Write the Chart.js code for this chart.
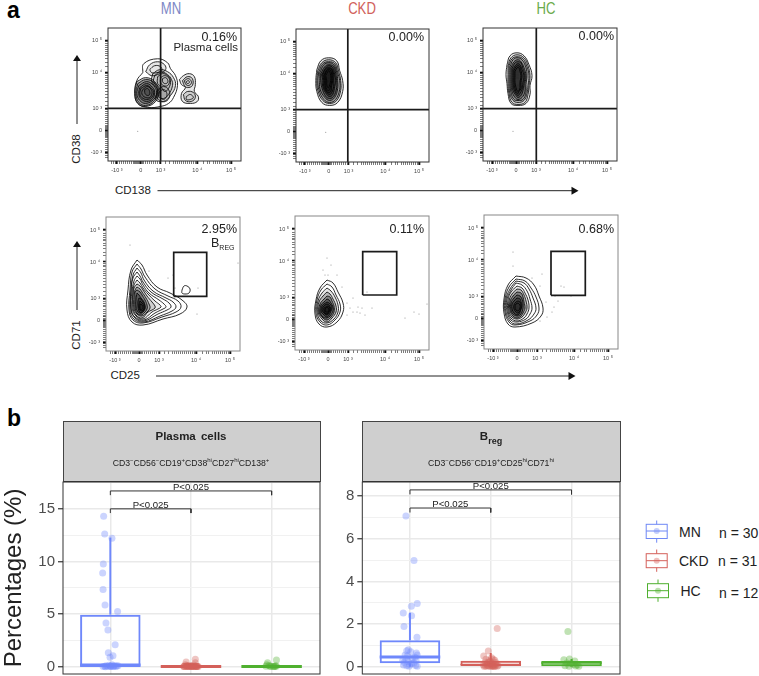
<!DOCTYPE html>
<html>
<head>
<meta charset="utf-8">
<script src="https://cdn.jsdelivr.net/npm/chart.js@4/dist/chart.umd.min.js"></script>
<style>
html,body{margin:0;padding:0;background:#fff}
#page{position:relative;width:759px;height:676px;overflow:hidden;font-family:"Liberation Sans",Arial,sans-serif;color:#222}
canvas{position:absolute}
.t{position:absolute;white-space:nowrap;line-height:1;transform:translateY(-50%)}
.c{transform:translate(-50%,-50%)}
.r{transform:translate(-100%,-50%)}
.v{transform:translate(-50%,-50%) rotate(-90deg)}
.strip{position:absolute;background:#cfcfcf;border:1px solid #444;border-bottom:1.5px solid #333;box-sizing:border-box;z-index:3}
sup,sub{font-size:6px;line-height:0}
svg{position:absolute;left:0;top:0;z-index:4}
</style>
</head>
<body>
<div id="page">
  <div class="t" style="left:7px;top:10px;font-size:23px;font-weight:bold;color:#000">a</div>
  <div class="t" style="left:7px;top:418px;font-size:23px;font-weight:bold;color:#000">b</div>

  <div class="t c" style="left:171px;top:9px;font-size:16px;color:#7e88c6;transform:translate(-50%,-50%) scaleX(.82)">MN</div>
  <div class="t c" style="left:362px;top:9px;font-size:16px;color:#d1615b;transform:translate(-50%,-50%) scaleX(.82)">CKD</div>
  <div class="t c" style="left:546px;top:9px;font-size:16px;color:#6aaa4a;transform:translate(-50%,-50%) scaleX(.82)">HC</div>

  <div class="t r" style="left:237px;top:37px;font-size:12.5px;z-index:2">0.16%</div>
  <div class="t r" style="left:238px;top:48px;font-size:11.5px;z-index:2">Plasma cells</div>
  <div class="t r" style="left:424px;top:37px;font-size:12.5px;z-index:2">0.00%</div>
  <div class="t r" style="left:614px;top:36px;font-size:12.5px;z-index:2">0.00%</div>
  <div class="t r" style="left:237px;top:229px;font-size:12.5px;z-index:2">2.95%</div>
  <div class="t" style="left:211px;top:243px;font-size:12.5px;z-index:2">B<sub style="font-size:7px">REG</sub></div>
  <div class="t r" style="left:424px;top:229px;font-size:12.5px;z-index:2">0.11%</div>
  <div class="t r" style="left:614px;top:229px;font-size:12.5px;z-index:2">0.68%</div>

  <div class="t v" style="left:77px;top:148.5px;font-size:11.5px">CD38</div>
  <div class="t v" style="left:77px;top:335px;font-size:11.5px">CD71</div>
  <div class="t" style="left:115px;top:191px;font-size:11.5px">CD138</div>
  <div class="t" style="left:110.5px;top:376px;font-size:11.5px">CD25</div>

  <svg width="759" height="676">
    <g stroke="#222" stroke-width="1" fill="#111">
      <line x1="77" y1="124" x2="77" y2="60"/><path d="M77 55l-4 6h8z" stroke="none"/>
      <line x1="77" y1="310" x2="77" y2="246"/><path d="M77 241l-4 6h8z" stroke="none"/>
      <line x1="157.5" y1="190.7" x2="572" y2="190.7"/><path d="M578.5 190.7l-7-4v8z" stroke="none"/>
      <line x1="156" y1="376" x2="569" y2="376"/><path d="M575.5 376l-7-4v8z" stroke="none"/>
    </g>
    <g fill="none" stroke-width="1">
      <g stroke="#6f88f5">
        <rect x="646.2" y="524.3" width="21" height="14.2"/>
        <line x1="646.2" y1="531" x2="667.2" y2="531"/>
        <line x1="656.7" y1="520.5" x2="656.7" y2="524.3"/><line x1="656.7" y1="538.5" x2="656.7" y2="542.7"/>
        <circle cx="656.7" cy="531" r="3" fill="#6f88f5" fill-opacity=".4" stroke="none"/>
      </g>
      <g stroke="#d4605a">
        <rect x="646.2" y="553.7" width="21" height="14"/>
        <line x1="646.2" y1="560.7" x2="667.2" y2="560.7"/>
        <line x1="656.7" y1="549.5" x2="656.7" y2="553.7"/><line x1="656.7" y1="567.7" x2="656.7" y2="571.8"/>
        <circle cx="656.7" cy="560.7" r="3" fill="#d4605a" fill-opacity=".4" stroke="none"/>
      </g>
      <g stroke="#4fb02f">
        <rect x="647.5" y="583.7" width="21" height="14"/>
        <line x1="647.5" y1="590.7" x2="668.5" y2="590.7"/>
        <line x1="658" y1="579.5" x2="658" y2="583.7"/><line x1="658" y1="597.7" x2="658" y2="601.8"/>
        <circle cx="658" cy="590.7" r="3" fill="#4fb02f" fill-opacity=".4" stroke="none"/>
      </g>
    </g>
  </svg>
  <div class="t" style="left:679px;top:532px;font-size:14px">MN</div>
  <div class="t" style="left:719px;top:533px;font-size:14px">n = 30</div>
  <div class="t" style="left:679px;top:561px;font-size:14px">CKD</div>
  <div class="t" style="left:718px;top:561px;font-size:14px">n = 31</div>
  <div class="t" style="left:680.5px;top:591px;font-size:14px">HC</div>
  <div class="t" style="left:719px;top:593px;font-size:14px">n = 12</div>

  <div class="strip" style="left:62.5px;top:421px;width:258px;height:60.5px"></div>
  <div class="strip" style="left:362px;top:421px;width:258.5px;height:60.5px"></div>
  <div class="t c" style="left:191px;top:437px;font-size:11.5px;font-weight:bold;z-index:5;word-spacing:2px">Plasma cells</div>
  <div class="t c" style="left:191px;top:463px;font-size:8.7px;z-index:5">CD3<sup>−</sup>CD56<sup>−</sup>CD19<sup>+</sup>CD38<sup>hi</sup>CD27<sup>hi</sup>CD138<sup>+</sup></div>
  <div class="t c" style="left:491px;top:437px;font-size:11.5px;font-weight:bold;z-index:5">B<sub style="font-size:9px">reg</sub></div>
  <div class="t c" style="left:491px;top:463px;font-size:8.7px;z-index:5">CD3<sup>−</sup>CD56<sup>−</sup>CD19<sup>+</sup>CD25<sup>hi</sup>CD71<sup>hi</sup></div>
</div>

<script>
// ---------- Panel a: flow cytometry axes (channel units) ----------
const flowAxisLabelsX = {9:'-10 ³',33:'0',53:'10 ³',90:'10 ⁴',124:'10 ⁵'};
const flowAxisLabelsY = {9:'-10 ³',31:'0',53:'10 ³',89:'10 ⁴',121:'10 ⁵'};
const flowMajorX = [9,33,53,90,124];
const flowMinorX = [4,6,8,10,12,14,16,18,20,22,24,26,27,28,29,30,31,32,34,35,36,38,40,42,44,46,48,50,52,58,62,66,68,70,72,74,76,78,80,82,84,86,88,89,96,100,102,106,108,110,112,114,116,118,120,122,123];
const flowMajorY = [9,31,53,89,121];
const flowMinorY = [4,6,8,10,12,14,16,18,20,22,24,25,26,27,28,29,30,32,33,34,35,36,38,40,42,44,46,48,50,52,56,60,64,67,70,73,76,78,80,82,84,86,88,95,99,103,106,108,110,112,114,116,118,120];

// closed contour outlines, as x,y,x,y… in channel units
const contoursMNPlasma = [
 [35,89,36,98,50,103,60,99,63,93,68,86,70,76,66,64,61,58,53,55,40,54,30,58,27,68,29,81],
 [29,80,38,84,47,80,51,70,48,60,38,55,30,58,27,68],
 [30,78,38,82,46,79,50,70,47,61,38,56,31,59,28,68],
 [31,76,39,80,46,76,49,69,46,62,38,58,32,61,29,68],
 [32,74,39,78,45,74,47,69,45,63,39,60,33,63,31,68],
 [33,73,39,76,44,73,46,69,44,64,39,62,34,64,32,68],
 [35,72,40,75,44,71,44,67,42,64,38,64,35,66,34,69],
 [37,72,40,73,42,70,42,67,40,66,38,67,37,69],
 [45,88,52,92,60,90,66,84,68,76,63,66,56,60,48,62,50,72,44,80],
 [47,86,53,90,60,87,64,82,65,76,61,67,56,63,51,65,52,73,46,80],
 [50,85,55,88,60,86,63,81,61,73,57,70,54,74,50,78],
 [53,84,57,86,61,84,62,80,60,76,56,76,53,79],
 [55,83,58,84,60,82,60,79,57,78,55,80],
 [50,72,56,75,61,72,62,65,58,60,52,61,49,66],
 [52,70,56,72,59,69,59,65,56,62,53,64],
 [38,90,42,97,50,100,57,97,58,92,52,88,44,86],
 [42,92,47,96,53,95,54,91,49,89,44,89],
 [72,82,76,86,82,88,87,85,88,77,87,70,91,65,90,60,83,58,75,60,74,68,78,74,74,77],
 [75,81,80,85,85,83,85,76,80,74,77,76],
 [77,81,81,83,84,80,83,77,80,76,78,78],
 [79,80,81,81,82,79,80,78,79,79],
 [76,67,80,70,86,69,88,64,84,60,78,61],
 [79,65,83,67,86,64,83,62,79,62]
];
const contoursCKDPlasma = [
 [21,93,25,102,33,105,41,102,44,92,47,82,47,71,42,60,34,57,26,60,21,71,20,82],
 [22,92,26,100,33,103,40,100,43,91,45,82,45,72,41,62,34,59,27,62,22,72,21,82],
 [23,91,27,99,33,101,39,99,42,90,44,82,44,73,40,63,34,60,28,63,23,73,22,82],
 [24,90,28,98,33,100,38,98,41,90,42,82,42,74,39,65,34,62,29,65,24,74,24,82],
 [25,89,29,96,33,98,38,96,40,89,41,82,41,75,38,66,34,64,30,66,26,75,25,82],
 [26,88,30,95,33,97,37,95,39,88,40,82,39,76,37,68,34,66,31,68,27,76,27,82],
 [27,88,30,94,33,95,36,94,38,88,38,82,38,76,36,70,34,68,31,70,28,76,28,82],
 [28,87,31,93,33,94,36,93,37,87,37,82,36,77,35,71,33,70,31,71,29,77,29,82],
 [29,87,31,92,33,93,35,92,36,87,36,82,35,77,34,73,33,72,31,73,30,77,30,82],
 [30,87,32,91,33,92,34,91,35,87,35,82,34,78,33,75,32,75,31,78,31,82]
];
const contoursHCPlasma = [
 [24,97,27,106,34,109,41,106,46,97,49,86,47,76,47,67,43,58,35,56,28,58,25,68,24,78,23,87],
 [25,96,28,104,34,107,41,104,45,96,47,86,46,76,45,67,42,59,35,57,29,59,26,68,25,78,25,87],
 [26,96,29,103,34,105,40,103,44,95,46,86,45,76,44,68,41,61,35,59,30,61,27,68,26,78,26,87],
 [27,95,30,102,34,104,39,102,43,94,44,86,43,77,43,69,40,62,35,61,31,62,28,69,27,78,27,87],
 [28,94,31,100,35,102,38,100,41,94,43,86,42,78,42,70,39,64,35,62,32,64,29,70,28,78,28,87],
 [29,93,32,99,35,100,38,99,40,93,42,86,41,78,40,71,38,66,35,64,33,66,30,71,29,78,29,86],
 [30,92,33,97,35,98,37,97,39,92,41,86,40,79,39,72,37,68,35,66,33,68,31,72,30,79,30,86],
 [31,91,33,95,35,96,37,95,38,91,39,86,38,79,38,73,36,70,35,68,33,70,32,73,31,79,31,86],
 [32,90,34,94,35,94,36,94,37,90,38,86,37,79,37,74,36,71,35,70,34,71,33,74,32,79,32,86]
];
const contoursMNBreg = [
 [31,91,36,86,41,76,51,64,64,58,76,51,81,44,74,37,57,32,37,26,26,29,21,41,22,61,25,81],
 [31,87,35,82,39,74,49,62,62,55,72,50,75,44,70,39,56,34,37,28,27,31,23,41,24,61,26,79],
 [31,83,35,78,38,71,47,60,60,53,67,49,70,44,66,40,54,35,38,29,28,32,24,41,25,60,27,76],
 [31,79,34,75,37,69,45,59,57,52,63,48,65,44,61,41,52,37,38,30,29,33,25,42,25,60,27,73],
 [31,75,34,72,37,66,43,58,53,51,58,47,60,44,57,42,49,38,38,31,29,34,25,42,26,59,28,70],
 [31,71,34,68,37,63,42,57,49,50,54,46,55,44,52,42,46,39,37,32,30,35,26,43,27,58,28,66],
 [31,67,34,65,37,61,41,55,46,49,49,45,49,43,46,41,42,39,36,33,30,36,27,43,27,57,28,63],
 [31,64,34,62,36,59,40,53,43,47,44,43,41,39,36,35,31,37,28,43,28,55,29,61],
 [31,61,34,59,36,56,39,51,41,46,41,42,38,38,35,36,31,38,29,44,29,54,29,59],
 [31,58,33,56,35,53,38,49,39,45,38,41,35,38,32,39,30,44,30,52],
 [33,53,35,52,37,49,39,45,39,42,37,39,35,38,33,40,32,45,32,50],
 [34,50,36,48,38,45,38,42,36,40,34,41,33,44,33,47],
 [34,47,36,46,37,43,35,41,34,43],
 [76,61,78,65,81,65,84,62,83,58,79,57,76,58]
];
const contoursCKDBreg = [
 [32,70,38,67,43,58,48,47,48,38,42,28,32,23,24,26,20,36,21,50,25,62],
 [32,66,37,63,41,55,45,46,45,38,40,30,32,25,25,28,21,37,22,50,26,60],
 [32,62,36,59,40,53,43,45,43,38,39,31,32,27,26,29,22,38,23,49,27,57],
 [32,58,35,56,38,51,41,44,41,38,37,32,32,28,27,31,23,38,24,48,28,54],
 [32,54,35,53,37,49,39,44,39,38,36,33,32,30,28,32,24,38,25,46,29,51],
 [32,51,34,50,36,47,38,43,38,39,35,34,32,32,28,33,25,38,26,45,29,48],
 [32,48,34,47,36,45,37,42,36,39,34,35,32,33,29,35,26,39,27,44,29,46],
 [32,46,34,45,35,43,36,41,35,39,33,36,32,35,30,36,27,40,28,43,30,45],
 [32,44,34,43,35,41,34,39,33,37,32,36,30,37,29,40,29,42,31,43],
 [32,43,33,42,34,40,33,38,32,38,31,38,30,40,31,42]
];
const contoursHCBreg = [
 [32,73,42,71,50,64,55,53,59,41,57,33,48,26,31,22,24,25,20,36,20,50,24,64],
 [32,70,41,68,47,61,52,52,55,41,53,34,46,28,31,24,25,27,21,37,21,50,25,62],
 [32,68,40,66,45,60,49,51,52,41,50,35,44,29,32,25,26,28,22,37,22,50,26,60],
 [32,66,38,64,43,58,46,50,48,41,46,35,42,30,33,27,27,29,23,38,23,50,27,59],
 [33,63,38,61,41,56,44,49,45,41,43,35,40,31,33,28,27,31,24,38,24,49,27,57],
 [33,60,37,59,40,54,42,48,43,41,41,36,38,32,33,30,28,32,25,38,25,48,28,55],
 [33,57,37,56,39,52,40,47,41,41,39,36,37,33,33,31,29,33,26,39,26,47,29,53],
 [33,54,36,53,38,50,39,46,39,41,38,37,36,34,33,33,29,35,27,39,27,46,30,51],
 [33,51,36,50,37,47,38,44,37,40,36,37,35,35,33,34,30,36,28,40,28,45,30,48],
 [34,48,36,47,37,44,37,41,36,38,34,36,32,37,30,40,30,44,32,47],
 [34,46,36,44,36,41,35,39,34,38,32,39,31,42,32,45]
];
// ring shading per contour list (dense contour lines merge to near black in the reference)
const shadeMNPlasma = [0,.25,.2,.2,.15,.1,0,.15,.15,.1,.05,0,0,.1,.05,.1,0,.1,.1,0,0,.1,0];
const shadeCKDPlasma = [.1,.15,.2,.25,.3,.3,.25,.2,.1,.05];
const shadeHCPlasma = [.05,.1,.15,.2,.25,.3,.25,.15,.05];
const shadeMNBreg = [0,0,0,0,0,.08,.12,.2,.25,.3,.3,.2,.1,0];
const shadeCKDBreg = [0,0,.1,.2,.3,.3,.3,.3,.2,.1];
const shadeHCBreg = [0,0,0,0,.1,.2,.3,.3,.3,.2,.1];
// density peaks (white), events outside contours, gates
const peaksMNPlasma = [40,71,58,81,56,66,47,93,80,80,83,64];
const peaksCKDPlasma = [33,90,33,87,33,84,33,81,33,77,33,74,33,71,33,68];
const peaksHCPlasma = [34,93,34,90,34,87,34,84,35,76,35,73,35,71];
const peaksMNBreg = [36,43];
const peaksCKDBreg = [32,39];
const peaksHCBreg = [33,41];
const eventsMNPlasma = [30,30];
const eventsCKDPlasma = [30,30];
const eventsHCPlasma = [30,30];
const eventsMNBreg = [24,106,43,80,67,76,132,88,69,63,92,63,91,37,62,73];
const eventsCKDBreg = [32,92,36,85,28,80,33,75,42,75,30,75,47,63,58,52,52,47,55,42,63,43,67,42,77,42,52,35,70,35,58,38,62,38,65,37,72,58,110,32,119,38,124,36,132,46];
const eventsHCBreg = [29,97,29,83,58,75,48,71,56,63,62,47,70,42,74,48,68,37,63,32,56,28,77,63,80,62,71,53,87,53];
const quadrantMNPlasma = [53,53];
const quadrantCKDPlasma = [52.2,52.7];
const quadrantHCPlasma = [53.3,52.7];
const gateMNBreg = [67.7,54.7,100.7,98.7];
const gateCKDBreg = [67.7,55,101.7,98.3];
const gateHCBreg = [67,53.7,101.3,97.7];

// ---------- Panel b: values ----------
const groups = ['MN','CKD','HC'];
const groupColors = ['#6f88fb','#d4605a','#4fb02f'];
const groupAlpha = ['rgba(111,136,251,.36)','rgba(212,96,90,.36)','rgba(79,176,47,.36)'];

const plasmaQ1 = [0,0,0];
const plasmaMedian = [0.15,0.03,0.03];
const plasmaQ3 = [4.95,0.08,0.06];
const plasmaWhiskerHigh = [12.27,0.15,0.1];
const plasmaMNx = [-.083,-.07,.02,-.087,-.095,-.09,-.066,.09,-.054,-.03,.06,-.025,.033,-.004,-.09,-.07,-.05,-.03,-.015,0,.01,.02,.035,.05,.065,.08,.095,-.06,.04,.005];
const plasmaMNy = [14.3,12.6,12.2,9.75,8.9,7.33,5.87,5.24,4.16,3.49,2.1,1.33,1.05,.89,.02,.05,.1,.03,.15,.02,.08,.2,.04,.12,.03,.06,.1,.01,.02,.05];
const plasmaCKDx = [-.06,.054,.054,-.07,-.09,-.08,-.065,-.05,-.04,-.03,-.02,-.01,0,.01,.02,.03,.04,.05,.06,.07,.08,.09,-.085,-.055,-.025,.005,.035,.065,-.045,.015,.075];
const plasmaCKDy = [.44,.7,.38,.2,.02,.05,.03,.1,.02,.06,.03,.12,.02,.04,.08,.03,.15,.05,.02,.04,.03,.02,.03,.06,.02,.05,.02,.03,.04,.02,.05];
const plasmaHCx = [.06,-.05,-.07,.04,-.03,-.01,.02,.06,-.06,.05,-.02,.03];
const plasmaHCy = [.63,.38,.05,.02,.12,.04,.02,.05,.2,.1,.02,.03];

const bregQ1 = [0.16,0.03,0.02];
const bregMedian = [0.46,0.1,0.17];
const bregQ3 = [1.24,0.28,0.27];
const bregWhiskerHigh = [2.53,0.65,0.36];
const bregWhiskerLow = [0,0,0];
const bregMNx = [-.05,.05,.09,.017,-.083,.02,-.074,.087,-.04,-.02,.01,.08,-.06,-.03,.06,.09,-.09,-.05,.03,.075,-.07,-.02,.02,.05,-.08,-.04,0,.07,.09,-.01];
const bregMNy = [7.07,4.98,2.97,2.83,2.52,2.39,1.89,1.38,.75,.8,.7,.65,.55,.5,.45,.55,.3,.35,.4,.3,.2,.25,.15,.18,.08,.05,.1,.06,.02,.02];
const bregCKDx = [.08,-.03,-.087,.01,-.06,-.02,.03,.05,-.07,-.04,-.01,.02,.06,.07,-.05,0,.04,-.09,.09,-.03,.015,-.065,.055,-.045,.025,-.015,.035,.08,-.08,.005,.045];
const bregCKDy = [1.79,.74,.5,.42,.35,.3,.35,.3,.2,.2,.25,.18,.2,.12,.12,.1,.1,.08,.06,.05,.05,.04,.04,.03,.03,.02,.02,.02,.01,.01,.01];
const bregHCx = [-.045,-.095,-.025,.04,-.06,-.01,.02,.07,-.08,.05,.09,-.03];
const bregHCy = [1.65,.33,.36,.27,.18,.15,.1,.08,.05,.03,.02,.02];

const plasmaBrackets = [[0,1,15,14.6],[0,2,16.7,16.3]];
const bregBrackets = [[0,1,7.44,7.23],[0,2,8.29,8.08]];
const bracketLabel = 'P<0.025';
const plasmaTicks = [0,2.5,5,7.5,10,12.5,15,17.5];
const plasmaMajor = [0,5,10,15];
const bregTicks = [0,1,2,3,4,5,6,7,8];
const bregMajor = [0,2,4,6,8];

// ---------- helpers ----------
function pts(flat, close){
  const a=[];for(let i=0;i<flat.length;i+=2)a.push({x:flat[i],y:flat[i+1]});
  if(close)a.push(a[0]);return a;
}
Chart.defaults.font.family='"Liberation Sans",Arial,sans-serif';

const frame = {id:'frame',afterDatasetsDraw(c,_,o){
  const a=c.chartArea,g=c.ctx;g.save();g.strokeStyle=o.color;g.lineWidth=o.width;
  g.strokeRect(a.left,a.top,a.right-a.left,a.bottom-a.top);g.restore();
}};
const bracketText = {id:'bracketText',afterDatasetsDraw(c,_,o){
  if(!o.items)return;const g=c.ctx;g.save();g.font='9.6px "Liberation Sans",Arial,sans-serif';
  g.fillStyle='#222';g.textAlign='center';g.textBaseline='bottom';
  o.items.forEach(b=>{g.fillText(bracketLabel,c.scales.x.getPixelForValue((b[0]+b[1])/2),c.scales.y.getPixelForValue(b[2])+1);});
  g.restore();
}};
const noPad = s=>{s.paddingTop=0;s.paddingBottom=0;s.paddingLeft=0;s.paddingRight=0;};

function mount(L,T,W,H){
  const cv=document.createElement('canvas');
  cv.width=W;cv.height=H;cv.style.cssText=`left:${L}px;top:${T}px;width:${W}px;height:${H}px`;
  document.getElementById('page').appendChild(cv);return cv;
}

function flowChart(rect,contours,shade,peaks,events,quadrant,gate,frameColor){
  const [l,t,r,b]=rect,padL=30,padT=5,padR=5,padB=20;
  const w=r-l,h=b-t;
  const ds=[];
  contours.forEach((c,i)=>ds.push({data:pts(c,true),showLine:true,tension:.42,borderColor:'#151515',borderWidth:.9,pointRadius:0,
    fill:shade[i]?'shape':false,backgroundColor:`rgba(0,0,0,${shade[i]})`}));
  if(quadrant){
    ds.push({data:[{x:quadrant[0],y:0},{x:quadrant[0],y:134}],showLine:true,borderColor:'#1a1a1a',borderWidth:1.7,pointRadius:0});
    ds.push({data:[{x:0,y:quadrant[1]},{x:134,y:quadrant[1]}],showLine:true,borderColor:'#1a1a1a',borderWidth:1.7,pointRadius:0});
  }
  if(gate){
    const [x1,y1,x2,y2]=gate;
    ds.push({data:pts([x1,y1,x2,y1,x2,y2,x1,y2],true),showLine:true,borderColor:'#1a1a1a',borderWidth:1.7,pointRadius:0});
  }
  ds.push({data:pts(events),showLine:false,pointRadius:.5,borderWidth:0,pointBackgroundColor:'#777'});
  ds.push({data:pts(peaks),showLine:false,pointRadius:1.3,borderWidth:0,pointBackgroundColor:'#fff'});
  const axis=(major,minor,labels,isX)=>({
    type:'linear',min:0,max:134,
    afterBuildTicks:s=>{s.ticks=major.concat(minor).sort((a,b)=>a-b).map(v=>({value:v}));},
    afterFit:s=>{noPad(s);if(isX)s.height=padB;else s.width=padL;},
    border:{display:false},
    grid:{drawOnChartArea:false,tickLength:3,
      tickWidth:c=>major.includes(c.tick.value)?1.6:.7,
      tickColor:c=>major.includes(c.tick.value)?'#111':'#444'},
    ticks:{autoSkip:false,maxRotation:0,minRotation:0,includeBounds:false,padding:3,color:'#444',font:{size:5.5},
      callback:v=>labels[v]||''}
  });
  return new Chart(mount(l-padL,t-padT,w+padL+padR,h+padT+padB),{
    type:'scatter',
    data:{datasets:ds},
    options:{responsive:false,animation:false,devicePixelRatio:1,
      layout:{padding:{left:0,top:padT,right:padR,bottom:0}},
      plugins:{legend:{display:false},tooltip:{enabled:false},frame:{color:frameColor,width:1}},
      scales:{x:axis(flowMajorX,flowMinorX,flowAxisLabelsX,true),y:axis(flowMajorY,flowMinorY,flowAxisLabelsY,false)}},
    plugins:[frame]
  });
}

flowChart([107.5,28,241,161],contoursMNPlasma,shadeMNPlasma,peaksMNPlasma,eventsMNPlasma,quadrantMNPlasma,null,'#333');
flowChart([295.5,28.5,429,162],contoursCKDPlasma,shadeCKDPlasma,peaksCKDPlasma,eventsCKDPlasma,quadrantCKDPlasma,null,'#333');
flowChart([483,27.5,617,161],contoursHCPlasma,shadeHCPlasma,peaksHCPlasma,eventsHCPlasma,quadrantHCPlasma,null,'#333');
flowChart([106,217,240,351],contoursMNBreg,shadeMNBreg,peaksMNBreg,eventsMNBreg,null,gateMNBreg,'#888');
flowChart([295,216,429,350],contoursCKDBreg,shadeCKDBreg,peaksCKDBreg,eventsCKDBreg,null,gateCKDBreg,'#888');
flowChart([484,215,618,349],contoursHCBreg,shadeHCBreg,peaksHCBreg,eventsHCBreg,null,gateHCBreg,'#888');

function boxChart(o){
  const ds=[];
  const hw=.375;
  groups.forEach((g,i)=>{
    ds.push({type:'line',order:3,data:o.x[i].map((x,k)=>({x:i+x,y:o.y[i][k]})),showLine:false,pointRadius:3.5,borderWidth:0,pointBackgroundColor:groupAlpha[i],pointBorderWidth:0});
    ds.push({type:'line',order:2,data:[{x:i,y:o.q3[i]},{x:i,y:o.hi[i]}],borderColor:groupColors[i],borderWidth:2,pointRadius:0});
    ds.push({type:'line',order:2,data:[{x:i,y:o.q1[i]},{x:i,y:o.lo[i]}],borderColor:groupColors[i],borderWidth:2,pointRadius:0});
    ds.push({type:'line',order:2,data:[{x:i-hw,y:o.med[i]},{x:i+hw,y:o.med[i]}],borderColor:groupColors[i],borderWidth:o.medWidth[i],pointRadius:0});
    ds.push({type:'bar',order:1,label:g,data:[{x:i,y:[o.q1[i],o.q3[i]]}],grouped:false,barPercentage:.75,categoryPercentage:1,backgroundColor:'transparent',borderColor:groupColors[i],borderWidth:2,borderSkipped:false});
  });
  o.brackets.forEach(b=>{
    ds.push({type:'line',order:0,data:[{x:b[0],y:b[3]},{x:b[0],y:b[2]},{x:b[1],y:b[2]},{x:b[1],y:b[3]}],borderColor:'#333',borderWidth:1,pointRadius:0,tension:0});
  });
  const [L,T,W,H]=o.canvas;
  return new Chart(mount(L,T,W,H),{
    type:'bar',
    data:{datasets:ds},
    options:{responsive:false,animation:false,devicePixelRatio:1,
      layout:{padding:{top:o.padTop,right:2,bottom:3}},
      plugins:{legend:{display:false},tooltip:{enabled:false},frame:{color:'#333',width:1},bracketText:{items:o.brackets}},
      scales:{
        x:{type:'linear',offset:false,min:o.xMin,max:o.xMax,
          afterBuildTicks:s=>{s.ticks=[0,1,2].map(v=>({value:v}));},
          afterFit:s=>{noPad(s);s.height=0;},
          border:{display:false},
          grid:{offset:false,drawTicks:false,color:'#e9e9e9',lineWidth:1.5},
          ticks:{display:false}},
        y:{type:'linear',min:o.yMin,max:o.yMax,
          afterBuildTicks:s=>{s.ticks=o.ticks.map(v=>({value:v}));},
          afterFit:s=>{noPad(s);s.width=o.axisWidth;},
          border:{display:false},
          title:{display:!!o.title,text:o.title,font:{size:24},color:'#222',padding:0},
          grid:{tickLength:5,
            color:c=>o.major.includes(c.tick.value)?'#e9e9e9':'#f1f1f1',
            lineWidth:c=>o.major.includes(c.tick.value)?1.5:1,
            tickColor:c=>o.major.includes(c.tick.value)?'#333':'rgba(0,0,0,0)',
            tickWidth:1.2},
          ticks:{autoSkip:false,padding:3,color:'#4d4d4d',font:{size:15},
            callback:v=>o.major.includes(v)?String(v):''}}
      }},
    plugins:[frame,bracketText]
  });
}

boxChart({canvas:[0,478,324,200],axisWidth:63,padTop:4,xMin:-.587,xMax:2.6,yMin:-.69,yMax:17.55,
  title:'Percentages (%)',ticks:plasmaTicks,major:plasmaMajor,medWidth:[3.5,3,3],
  x:[plasmaMNx,plasmaCKDx,plasmaHCx],y:[plasmaMNy,plasmaCKDy,plasmaHCy],
  q1:plasmaQ1,med:plasmaMedian,q3:plasmaQ3,hi:plasmaWhiskerHigh,lo:plasmaQ1,brackets:plasmaBrackets});
boxChart({canvas:[330,478,294,200],axisWidth:32.3,padTop:4,xMin:-.59,xMax:2.6,yMin:-.34,yMax:8.66,
  title:'',ticks:bregTicks,major:bregMajor,medWidth:[3,1.5,1.5],
  x:[bregMNx,bregCKDx,bregHCx],y:[bregMNy,bregCKDy,bregHCy],
  q1:bregQ1,med:bregMedian,q3:bregQ3,hi:bregWhiskerHigh,lo:bregWhiskerLow,brackets:bregBrackets});
</script>
</body>
</html>
